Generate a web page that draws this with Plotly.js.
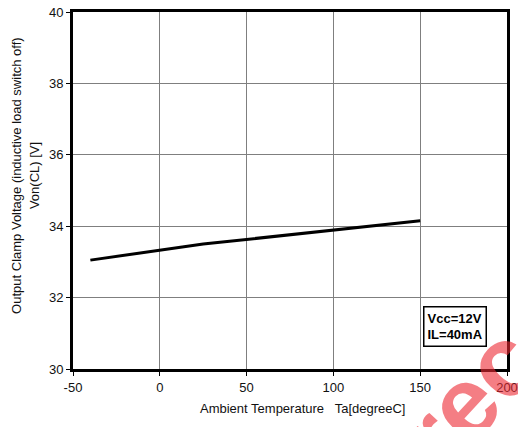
<!DOCTYPE html>
<html>
<head>
<meta charset="utf-8">
<script src="https://cdn.plot.ly/plotly-3.0.1.min.js"></script>
<style>html,body{margin:0;padding:0;background:#fff;}#chart{width:518px;height:427px;}</style>
</head>
<body>
<div id="chart"></div>
<script>
// Data
const temperature = [-40, 25, 150];
const clampVoltage = [33.05, 33.5, 34.15];
const xTicks = [-50, 0, 50, 100, 150, 200];
const yTicks = [30, 32, 34, 36, 38, 40];
const conditionLines = ["Vcc=12V", "IL=40mA"];
const xTitle = 'Ambient Temperature   Ta[degreeC]';
const yTitleLines = ['Output Clamp Voltage (inductive load switch off)', 'Von(CL) [V]'];

const trace = {
  x: temperature,
  y: clampVoltage,
  mode: 'lines',
  line: {color: '#000', width: 3},
  hoverinfo: 'skip'
};

const FAMILY = 'Liberation Sans, Arial, sans-serif';
const font = {family: FAMILY, size: 13, color: '#111'};

const layout = {
  width: 518, height: 427,
  margin: {l: 73, r: 11, t: 12, b: 58},
  paper_bgcolor: '#fff', plot_bgcolor: '#fff',
  showlegend: false,
  font: font,
  xaxis: {
    range: [-50, 200], tickvals: xTicks, ticktext: xTicks.map(String),
    showgrid: true, gridcolor: '#7f7f7f', gridwidth: 1,
    zeroline: false, showline: true, linecolor: '#000', linewidth: 3, mirror: true,
    ticks: 'outside', ticklen: 4, tickcolor: '#000', tickwidth: 1,
    tickfont: font
  },
  yaxis: {
    range: [30, 40], tickvals: yTicks, ticktext: yTicks.map(String),
    showgrid: true, gridcolor: '#7f7f7f', gridwidth: 1,
    zeroline: false, showline: true, linecolor: '#000', linewidth: 3, mirror: true,
    ticks: 'outside', ticklen: 4, tickcolor: '#000', tickwidth: 1,
    tickfont: font
  },
  annotations: [
    {
      x: 0.91, y: -0.08, xref: 'paper', yref: 'paper',
      xanchor: 'center', yanchor: 'middle',
      text: '<b>rec</b>', showarrow: false, textangle: -47,
      font: {family: FAMILY, size: 100, color: 'rgba(236,40,50,0.6)'}
    },
    {
      x: 170, y: 31.2, xref: 'x', yref: 'y',
      text: '<b>' + conditionLines.join('<br>') + '</b>',
      showarrow: false, align: 'left',
      font: {family: FAMILY, size: 13, color: '#000'},
      bgcolor: '#fff', bordercolor: '#000', borderwidth: 1.5, borderpad: 3
    },
    {
      x: 0.528, y: -0.112, xref: 'paper', yref: 'paper',
      xanchor: 'center', yanchor: 'middle',
      text: xTitle, showarrow: false, font: font
    },
    {
      x: -0.129, y: 0.541, xref: 'paper', yref: 'paper',
      xanchor: 'center', yanchor: 'middle', textangle: -90,
      text: yTitleLines[0], showarrow: false, font: font
    },
    {
      x: -0.087, y: 0.541, xref: 'paper', yref: 'paper',
      xanchor: 'center', yanchor: 'middle', textangle: -90,
      text: yTitleLines[1], showarrow: false, font: font
    }
  ]
};

Plotly.newPlot('chart', [trace], layout, {displayModeBar: false, staticPlot: true});
</script>
</body>
</html>
